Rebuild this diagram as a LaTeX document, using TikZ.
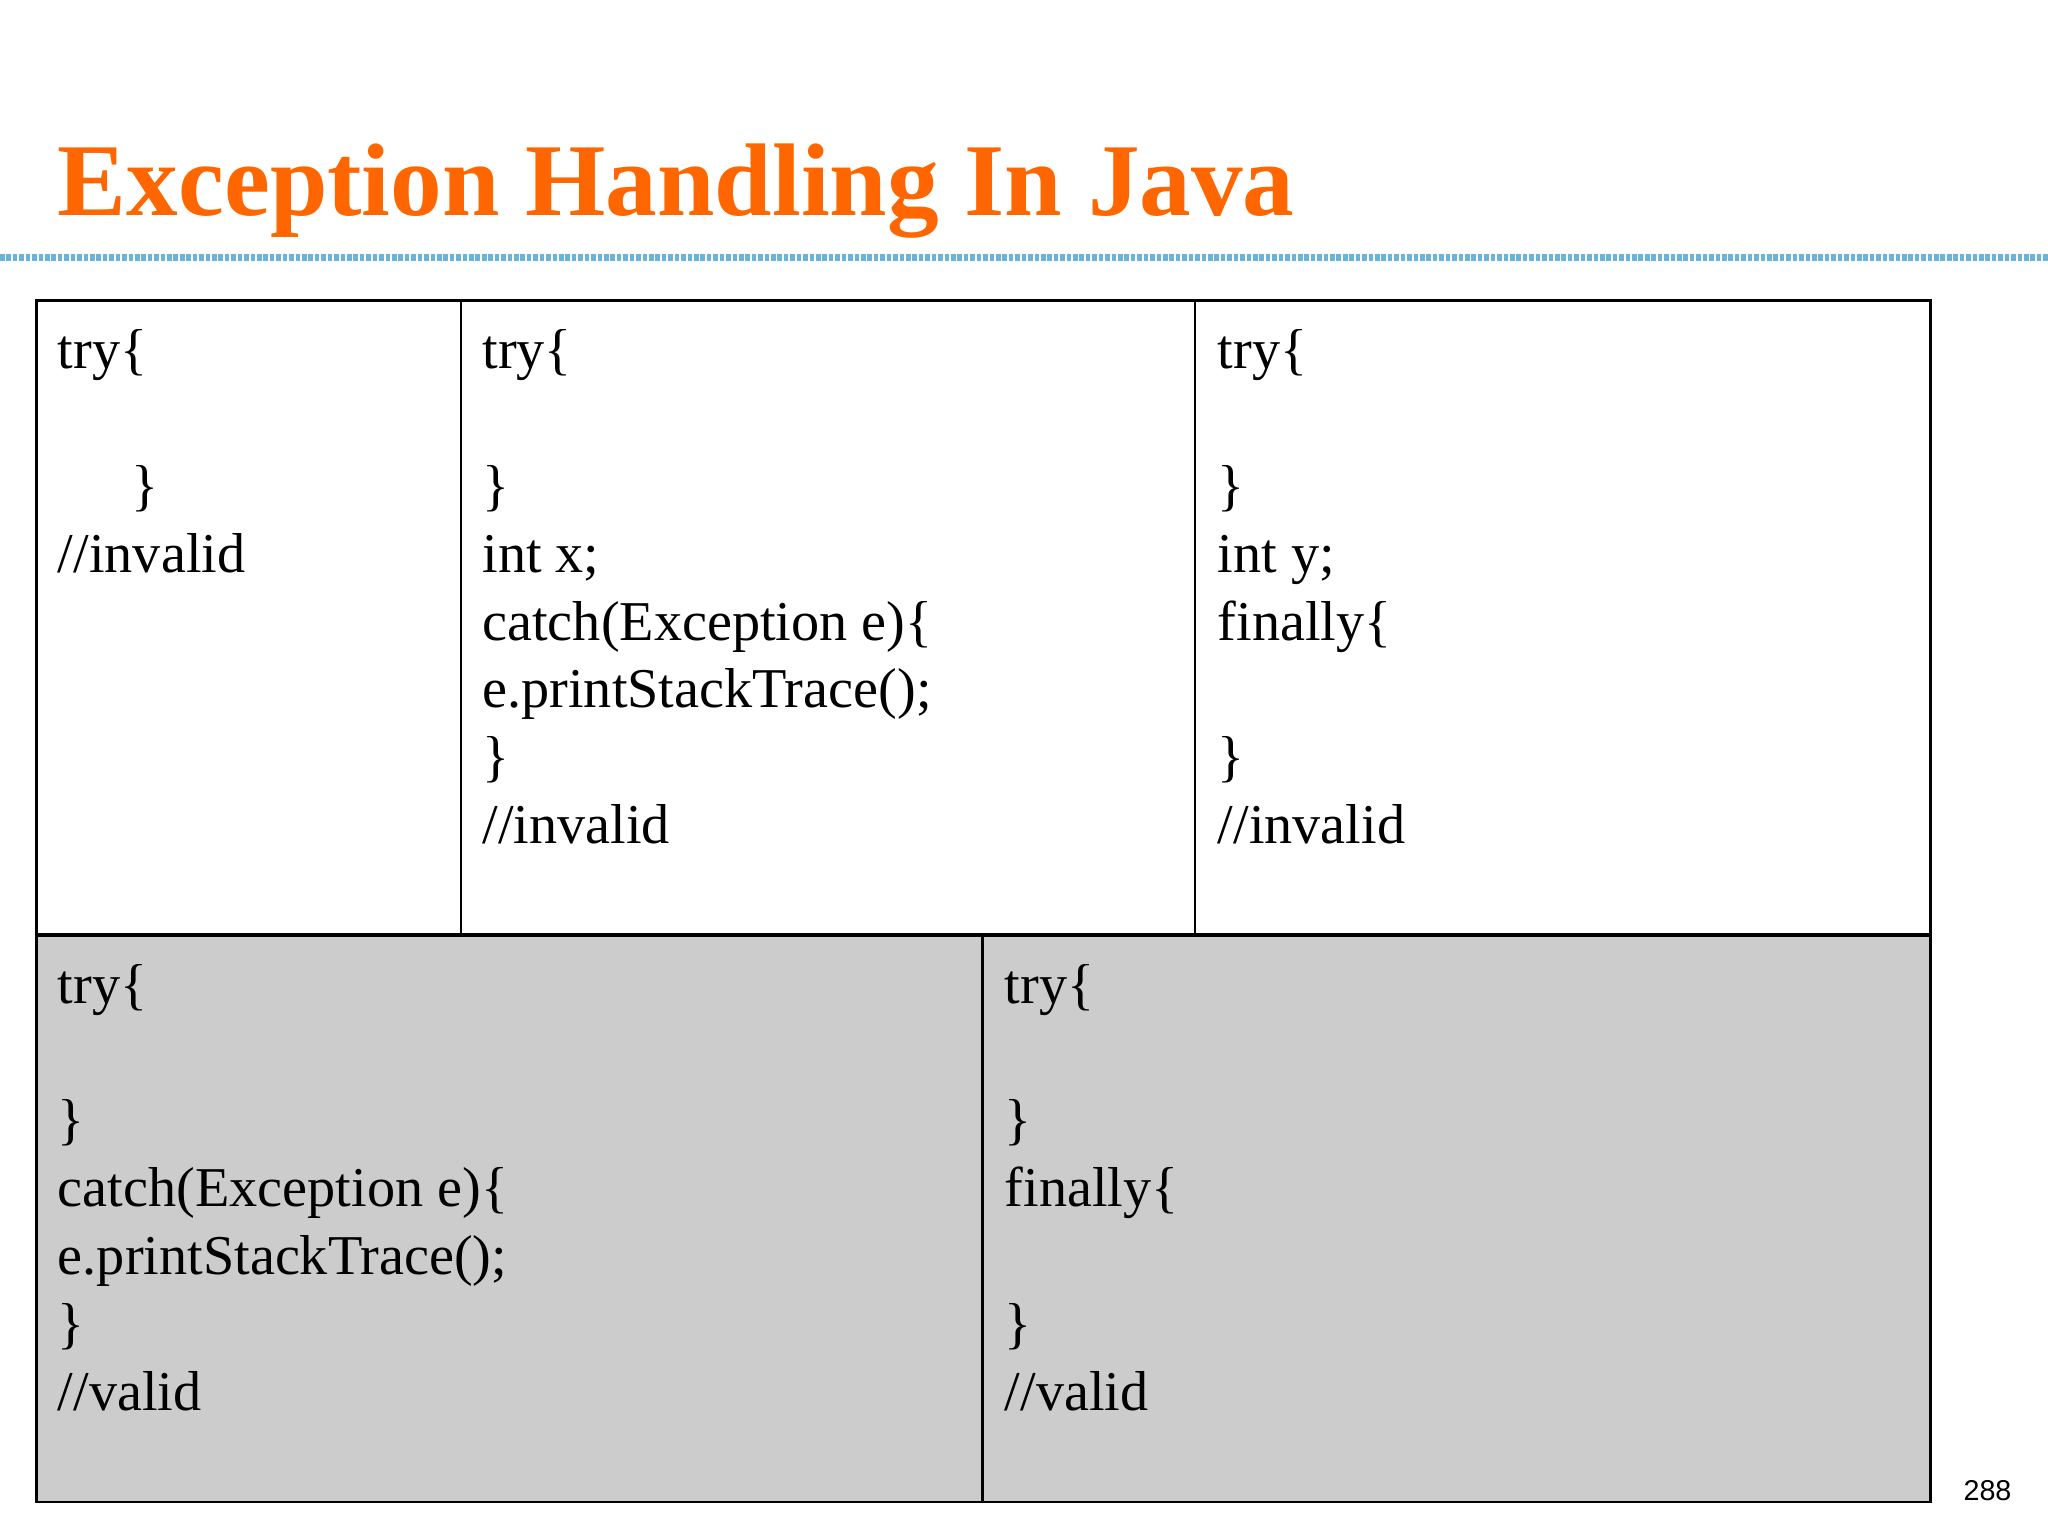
\documentclass[tikz,border=0pt]{standalone}
\usepackage{fontspec}
\setmainfont{Liberation Serif}
\setsansfont{Liberation Sans}
\definecolor{titleor}{HTML}{FF6600}
\definecolor{hexblue}{HTML}{6AB4DC}
\definecolor{cellgray}{HTML}{CCCCCC}
\begin{document}
\begin{tikzpicture}[x=0.02cm,y=-0.02cm,
  code/.style={anchor=base west,inner sep=0pt,font=\fontsize{24.5}{29}\selectfont},
  frame/.style={draw=black,line width=1.2pt}]
\useasboundingbox (0,0) rectangle (1568,1176);
\node[anchor=base west,inner sep=0pt,text=titleor,font=\fontsize{45}{50}\bfseries] (title) at (44,165) {Exception Handling In Java};
\draw[hexblue,line width=3pt,dash pattern=on 2pt off 0.8pt] (0,197) -- (1568,197);
% cells
\fill[cellgray] (28,716) rectangle (1478,1150);
\draw[frame] (28,230) rectangle (1478,1150);
\draw[frame] (353,230) -- (353,716);
\draw[frame] (915,230) -- (915,716);
\draw[draw=black,line width=2pt] (28,716) -- (1478,716);
\draw[frame] (752,716) -- (752,1150);
% cell 1
\node[code] (a1) at (44,282) {try\{};
\node[code] (a2) at (100,386) {\}};
\node[code] (a3) at (44,438) {//invalid};
% cell 2
\node[code] (b1) at (369,282) {try\{};
\node[code] (b2) at (369,386) {\}};
\node[code] (b3) at (369,438) {int x;};
\node[code] (b4) at (369,490) {catch(Exception e)\{};
\node[code] (b5) at (369,542) {e.printStackTrace();};
\node[code] (b6) at (369,594) {\}};
\node[code] (b7) at (369,646) {//invalid};
% cell 3
\node[code] (c1) at (932,282) {try\{};
\node[code] (c2) at (932,386) {\}};
\node[code] (c3) at (932,438) {int y;};
\node[code] (c4) at (932,490) {finally\{};
\node[code] (c5) at (932,594) {\}};
\node[code] (c6) at (932,646) {//invalid};
% cell 4
\node[code] (d1) at (44,768) {try\{};
\node[code] (d2) at (44,872) {\}};
\node[code] (d3) at (44,924) {catch(Exception e)\{};
\node[code] (d4) at (44,976) {e.printStackTrace();};
\node[code] (d5) at (44,1028) {\}};
\node[code] (d6) at (44,1080) {//valid};
% cell 5
\node[code] (e1) at (769,768) {try\{};
\node[code] (e2) at (769,872) {\}};
\node[code] (e3) at (769,924) {finally\{};
\node[code] (e4) at (769,1028) {\}};
\node[code] (e5) at (769,1080) {//valid};
\node[anchor=base west,inner sep=0pt,font=\sffamily\fontsize{12.5}{14}\selectfont] (pg) at (1503,1149) {288};
\end{tikzpicture}
\end{document}
